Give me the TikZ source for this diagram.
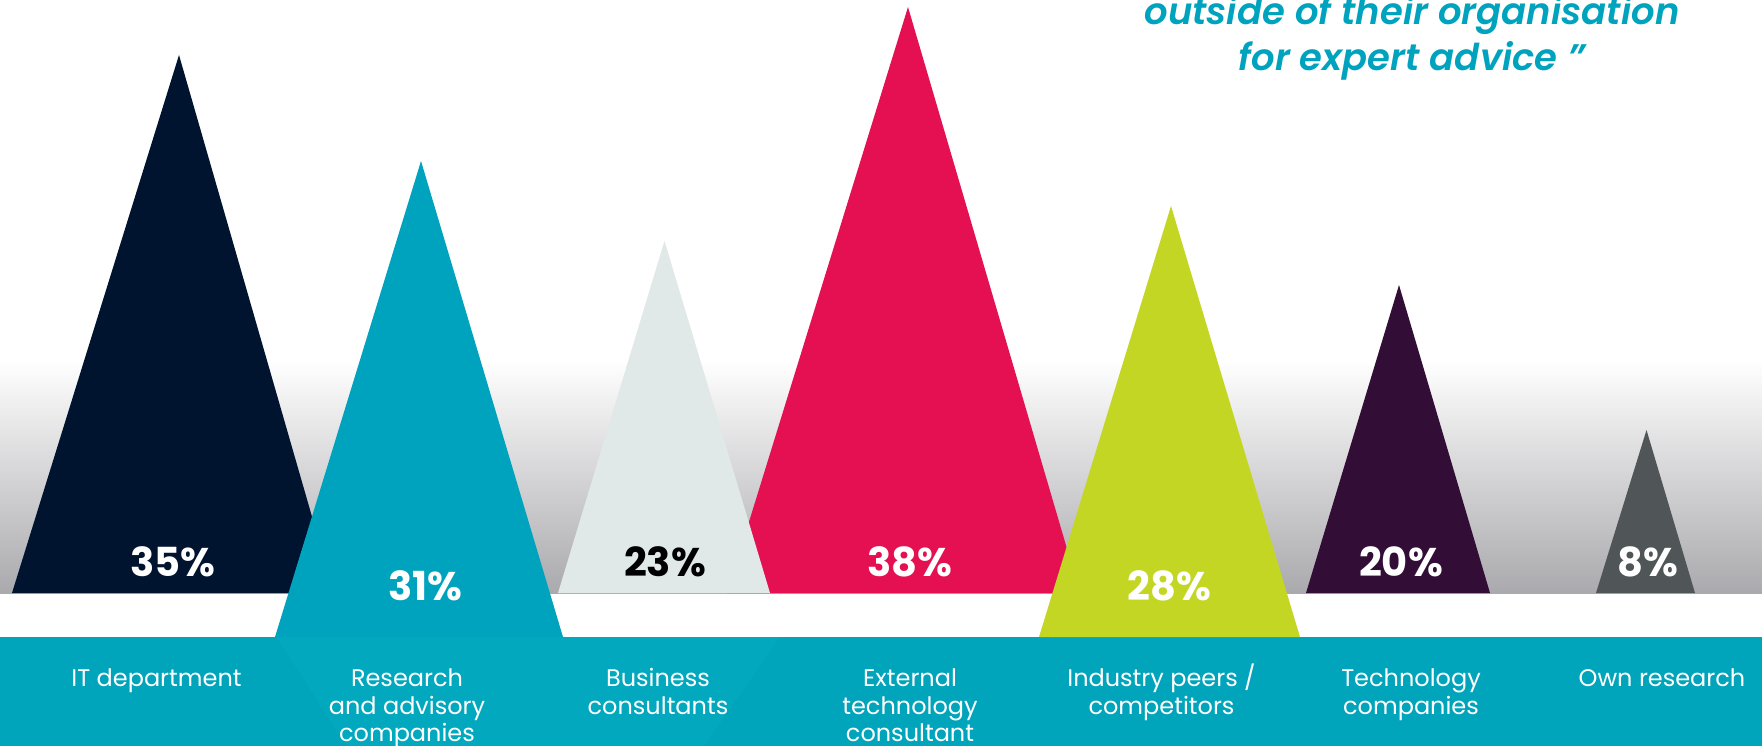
\documentclass[tikz,border=0pt]{standalone}
\usepackage{fontspec}
\setmainfont{Poppins}
\newfontfamily\quotefont{Poppins SemiBold Italic}

\definecolor{itnavy}{RGB}{0,20,48}
\definecolor{advteal}{RGB}{0,163,190}
\definecolor{bizgray}{RGB}{224,232,232}
\definecolor{extred}{RGB}{228,16,82}
\definecolor{peerlime}{RGB}{196,214,36}
\definecolor{techplum}{RGB}{50,14,55}
\definecolor{owngray}{RGB}{80,85,88}
\definecolor{bandteal}{RGB}{0,164,187}
\definecolor{bandlight}{RGB}{1,168,190}
\definecolor{fadegray}{RGB}{170,170,174}
\definecolor{fademid}{RGB}{242,242,243}

\begin{document}
\begin{tikzpicture}[x=1pt,y=-1pt,
    pct/.style={font=\fontsize{40}{40}\selectfont\bfseries, text=white, inner sep=0pt, anchor=base},
    cat/.style={font=\fontsize{24}{27.5}\selectfont, text=white, align=center, inner sep=0pt, anchor=base},
    quote/.style={font=\fontsize{37}{45.7}\selectfont\quotefont, text=advteal, align=center, inner sep=0pt, anchor=base}]
        \useasboundingbox (0,0) rectangle (1762,746);
        \clip (0,0) rectangle (1762,746);
        % background: fade, white gap, teal band
        \fill[white] (0,0) rectangle (1762,746);
        \shade[top color=white, middle color=fademid, bottom color=fadegray] (0,360) rectangle (1762,593);
        \fill[bandteal] (0,637) rectangle (1762,746);
        \fill[bandlight] (276,637) -- (780,637) -- (704.5,746) -- (347,746) -- cycle;
        % triangles
        \fill[itnavy] (179,55) -- (334,593) -- (12,593) -- cycle;
        \fill[advteal] (421,161) -- (563,637) -- (275,637) -- cycle;
        \fill[extred] (908,7) -- (1080,593) -- (727,593) -- cycle;
        \fill[bizgray] (664.5,241) -- (770,593) -- (558,593) -- cycle;
        \fill[peerlime] (1171,206) -- (1300,637) -- (1039,637) -- cycle;
        \fill[techplum] (1399,285) -- (1490,593) -- (1306,593) -- cycle;
        \fill[owngray] (1646.5,430) -- (1695,593) -- (1596,593) -- cycle;
        % values
        \node[pct] (itval) at (172.5,576) {35\%};
        \node[pct] (advval) at (425.5,600) {31\%};
        \node[pct, text=black] (bizval) at (665,576) {23\%};
        \node[pct] (extval) at (910,576) {38\%};
        \node[pct] (peerval) at (1169.5,600) {28\%};
        \node[pct] (techval) at (1401,576) {20\%};
        \node[pct] (ownval) at (1648,576) {8\%};
        % categories (base = last line)
        \node[cat] (itcat) at (156.5,686.7) {IT department};
        \node[cat] (advcat) at (407,741.7) {Research\\and advisory\\companies};
        \node[cat] (bizcat) at (658,714.2) {Business\\consultants};
        \node[cat] (extcat) at (910,741.7) {External\\technology\\consultant};
        \node[cat] (peercat) at (1161.5,714.2) {Industry peers /\\competitors};
        \node[cat] (techcat) at (1411,714.2) {Technology\\companies};
        \node[cat] (owncat) at (1662,686.7) {Own research};
        % quote
        \node[quote] (quote) at (1412,70.7) {outside of their organisation\\for expert advice ”};
\end{tikzpicture}
\end{document}
